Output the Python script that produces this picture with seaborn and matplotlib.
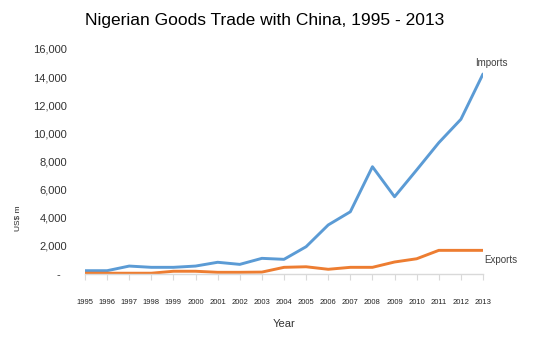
import matplotlib
matplotlib.use("Agg")
import matplotlib.pyplot as plt
import pandas as pd
import seaborn as sns

years = list(range(1995, 2014))
imports = [200, 200, 530, 440, 440, 530, 800, 650, 1080, 1010, 1910, 3460,
           4400, 7610, 5470, 7380, 9320, 10990, 14220]
exports = [20, 20, 20, 20, 160, 160, 85, 85, 100, 440, 480, 300,
           440, 440, 820, 1050, 1650, 1650, 1650]
yticks = [0, 2000, 4000, 6000, 8000, 10000, 12000, 14000, 16000]

df = pd.DataFrame({"Year": years, "Imports": imports, "Exports": exports})
long = df.melt("Year", var_name="Flow", value_name="Value")

sns.set_theme(style="white")
plt.rcParams["font.family"] = ["Liberation Sans", "DejaVu Sans"]

fig = plt.figure(figsize=(5.43, 3.55), dpi=100)
ax = fig.add_axes([85 / 543, (355 - 273.5) / 355, 398 / 543, 224.5 / 355])

sns.lineplot(data=long, x="Year", y="Value", hue="Flow",
             palette={"Imports": "#5B9BD5", "Exports": "#ED7D31"},
             linewidth=2.1, legend=False, ax=ax)

ax.set_xlim(1995, 2013)
ax.set_ylim(0, 16000)
ax.set_xticks(years)
ax.set_xticklabels([str(y) for y in years], fontsize=5.5, color="#222222")
ax.set_yticks(yticks)
ax.set_yticklabels(["-  "] + [f"{v:,}" for v in yticks[1:]],
                   fontsize=8, color="#333333")
ax.tick_params(axis="x", length=4, width=0.8, color="#D9D9D9",
               direction="out", pad=14, bottom=True)
ax.tick_params(axis="y", length=0, pad=13)

for s in ["top", "right", "left"]:
    ax.spines[s].set_visible(False)
ax.spines["bottom"].set_color("#D9D9D9")
ax.spines["bottom"].set_linewidth(1.0)

ax.set_xlabel("Year", fontsize=8, color="#333333", labelpad=10)
ax.set_ylabel("")
fig.text(18 / 543, 1 - 218 / 355, "US$ m", rotation=90, fontsize=6,
         ha="center", va="center", color="#222222")

ax.annotate("Imports", xy=(2013, imports[-1]), xytext=(6, 8),
            textcoords="offset points", fontsize=7, color="#404040",
            ha="center", va="center")
ax.annotate("Exports", xy=(2013, exports[-1]), xytext=(13, -7),
            textcoords="offset points", fontsize=7, color="#404040",
            ha="center", va="center")

fig.suptitle("Nigerian Goods Trade with China, 1995 - 2013", x=265 / 543,
             y=1 - 20 / 355, va="center", fontsize=12.5, color="black")

fig.savefig("out.png", dpi=100)
